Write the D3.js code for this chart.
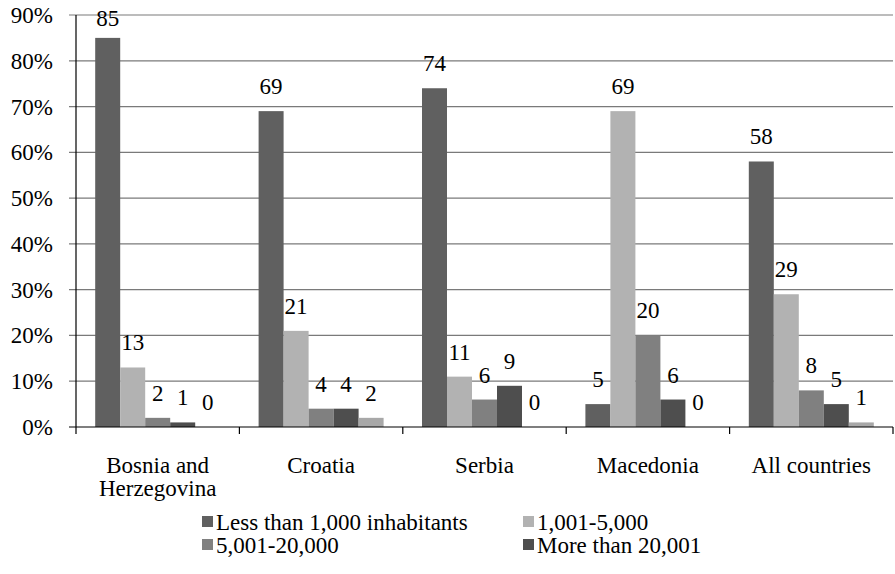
<!DOCTYPE html>
<html>
<head>
<meta charset="utf-8">
<script src="https://cdn.jsdelivr.net/npm/d3@7"></script>
<style>
  html, body { margin: 0; padding: 0; background: #fff; }
  svg { display: block; }
</style>
</head>
<body>
<svg id="chart" width="895" height="574"></svg>
<script>
// Settlement size shares (%) by country
const categories = ["Bosnia and Herzegovina", "Croatia", "Serbia", "Macedonia", "All countries"];
const categoryLines = [["Bosnia and", "Herzegovina"], ["Croatia"], ["Serbia"], ["Macedonia"], ["All countries"]];
const seriesNames = ["Less than 1,000 inhabitants", "1,001-5,000", "5,001-20,000", "More than 20,001", "Unknown"];
const lessThan1000 = [85, 69, 74, 5, 58];
const from1001to5000 = [13, 21, 11, 69, 29];
const from5001to20000 = [2, 4, 6, 20, 8];
const moreThan20001 = [1, 4, 9, 6, 5];
const unknownSize = [0, 2, 0, 0, 1];
const yTicks = [0, 10, 20, 30, 40, 50, 60, 70, 80, 90];
const legendSeries = [0, 1, 2, 3];

const seriesValues = [lessThan1000, from1001to5000, from5001to20000, moreThan20001, unknownSize];
const colors = ["#606060", "#b2b2b2", "#808080", "#4e4e4e", "#a8a8a8"];

const FONT = "Liberation Serif, DejaVu Serif, serif";
const svg = d3.select("#chart");
const plotLeft = 76, plotRight = 893, plotTop = 15, plotBottom = 427;

const y = d3.scaleLinear().domain([0, 90]).range([plotBottom, plotTop]);
const x0 = d3.scaleBand().domain(categories).range([plotLeft, plotRight]).padding(0);
const x1 = d3.scaleBand().domain(d3.range(seriesNames.length))
  .range([0, x0.bandwidth()]).paddingInner(0).paddingOuter(0.768);

// gridlines with short ticks left of the axis
svg.append("g")
  .selectAll("line")
  .data(yTicks.filter(t => t > 0))
  .join("line")
  .attr("x1", plotLeft - 7).attr("x2", plotRight)
  .attr("y1", d => y(d)).attr("y2", d => y(d))
  .attr("stroke", "#7a7a7a").attr("stroke-width", 1.2);

// y axis labels
svg.append("g")
  .selectAll("text")
  .data(yTicks)
  .join("text")
  .attr("x", 53).attr("y", d => y(d))
  .attr("dy", "0.35em")
  .attr("text-anchor", "end")
  .style("font-family", FONT)
  .style("font-size", "23px")
  .text(d => d + "%");

// bars
const groups = svg.append("g")
  .selectAll("g")
  .data(categories)
  .join("g")
  .attr("transform", d => `translate(${x0(d)},0)`);

groups.selectAll("rect")
  .data((c, ci) => seriesValues.map((vals, si) => ({ si, v: vals[ci] })))
  .join("rect")
  .attr("x", d => x1(d.si))
  .attr("width", x1.bandwidth())
  .attr("y", d => y(d.v))
  .attr("height", d => plotBottom - y(d.v))
  .attr("fill", d => colors[d.si]);

// value labels
groups.selectAll("text.val")
  .data((c, ci) => seriesValues.map((vals, si) => ({ si, v: vals[ci] })))
  .join("text")
  .attr("class", "val")
  .attr("x", d => x1(d.si) + x1.bandwidth() / 2)
  .attr("y", d => Math.max(y(d.v) - 17, 26))
  .attr("text-anchor", "middle")
  .style("font-family", FONT)
  .style("font-size", "23px")
  .text(d => d.v);

// axis lines
svg.append("line")
  .attr("x1", plotLeft).attr("x2", plotLeft)
  .attr("y1", plotTop).attr("y2", plotBottom)
  .attr("stroke", "#000").attr("stroke-width", 1.2);
svg.append("line")
  .attr("x1", plotLeft - 7).attr("x2", plotRight)
  .attr("y1", plotBottom).attr("y2", plotBottom)
  .attr("stroke", "#000").attr("stroke-width", 1.2);

// x ticks at category boundaries
const boundaries = categories.map(c => x0(c)).concat([plotRight]);
svg.append("g")
  .selectAll("line")
  .data(boundaries)
  .join("line")
  .attr("x1", d => d).attr("x2", d => d)
  .attr("y1", plotBottom).attr("y2", plotBottom + 7)
  .attr("stroke", "#000").attr("stroke-width", 1.2);

// category labels
svg.append("g")
  .selectAll("text")
  .data(categories)
  .join("text")
  .attr("x", d => x0(d) + x0.bandwidth() / 2)
  .attr("y", 473)
  .attr("text-anchor", "middle")
  .style("font-family", FONT)
  .style("font-size", "23px")
  .each(function (d, i) {
    d3.select(this).selectAll("tspan")
      .data(categoryLines[i])
      .join("tspan")
      .attr("x", x0(d) + x0.bandwidth() / 2)
      .attr("dy", (l, j) => j === 0 ? 0 : 23)
      .text(l => l);
  });

// legend
const legendPos = [[202, 522], [523, 522], [202, 545], [523, 545]];
const legend = svg.append("g")
  .selectAll("g")
  .data(legendSeries)
  .join("g")
  .attr("transform", (d, i) => `translate(${legendPos[i][0]},${legendPos[i][1]})`);
legend.append("rect")
  .attr("x", 0).attr("y", -6).attr("width", 11).attr("height", 11)
  .attr("fill", d => colors[d]);
legend.append("text")
  .attr("x", 14).attr("y", 0).attr("dy", "0.35em")
  .style("font-family", FONT)
  .style("font-size", "23px")
  .text(d => seriesNames[d]);
</script>
</body>
</html>
